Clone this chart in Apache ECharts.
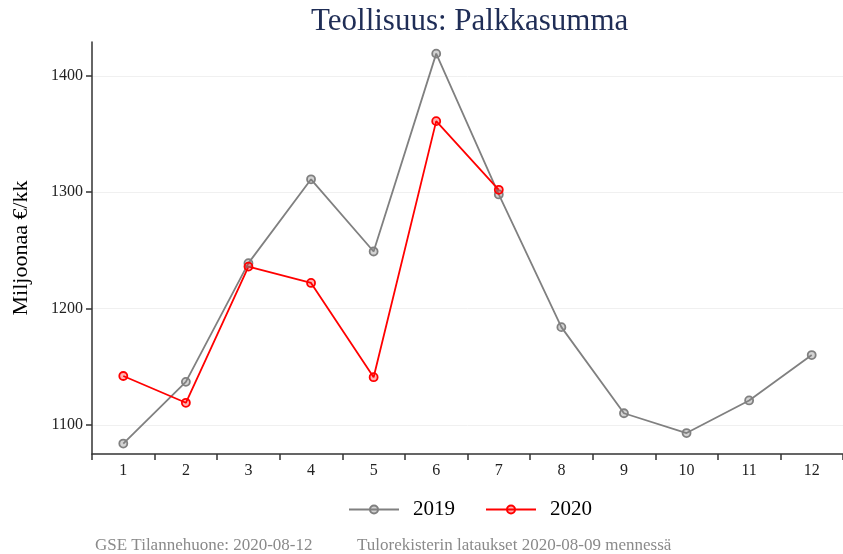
<!DOCTYPE html>
<html>
<head>
<meta charset="utf-8">
<script src="https://cdn.jsdelivr.net/npm/echarts@6/dist/echarts.min.js"></script>
<style>html,body{margin:0;padding:0;background:#fff;}#chart{width:843px;height:554px;}</style>
</head>
<body>
<div id="chart"></div>
<script>
const months = ['1','2','3','4','5','6','7','8','9','10','11','12'];
const values2019 = [1084, 1137, 1239, 1311, 1249, 1419, 1298, 1184, 1110, 1093, 1121, 1160];
const values2020 = [1142, 1119, 1236, 1222, 1141, 1361, 1302];
const yTicks = [1100, 1200, 1300, 1400];
const titleText = 'Teollisuus: Palkkasumma';
const yName = 'Miljoonaa €/kk';
const footLeft = 'GSE Tilannehuone: 2020-08-12';
const footRight = 'Tulorekisterin lataukset 2020-08-09 mennessä';

const serif = '"Liberation Serif", "DejaVu Serif", serif';
const chart = echarts.init(document.getElementById('chart'));
chart.setOption({
  animation: false,
  backgroundColor: '#fff',
  textStyle: { fontFamily: serif },
  title: {
    text: titleText, left: 306, top: 1,
    textStyle: { fontFamily: serif, fontSize: 31, fontWeight: 'normal', color: '#1f2d56' }
  },
  grid: { left: 92, right: -7, top: 42, bottom: 100 },
  legend: {
    bottom: 29, left: 343, itemWidth: 50, itemHeight: 10, itemGap: 30,
    textStyle: { fontFamily: serif, fontSize: 21, color: '#000', padding: [0, 0, 0, 9] },
    data: ['2019', '2020']
  },
  xAxis: {
    type: 'category', data: months, boundaryGap: true,
    axisLine: { lineStyle: { color: '#333', width: 1.5 } },
    axisTick: { show: true, length: 6, lineStyle: { color: '#333', width: 1.5 } },
    axisLabel: { fontFamily: serif, fontSize: 16, color: '#222', margin: 9 },
    splitLine: { show: false }
  },
  yAxis: {
    type: 'value', min: 1075, max: 1429,
    name: yName, nameLocation: 'middle', nameGap: 60,
    nameTextStyle: { fontFamily: serif, fontSize: 22, color: '#000' },
    axisLine: { show: true, lineStyle: { color: '#333', width: 1.5 } },
    axisTick: { show: true, length: 6, customValues: yTicks, lineStyle: { color: '#333', width: 1.5 } },
    axisLabel: { fontFamily: serif, fontSize: 16, color: '#222', margin: 9, customValues: yTicks, formatter: v => String(v) },
    splitLine: { show: true, lineStyle: { color: '#f0f0f0', width: 1 } }
  },
  series: [
    {
      name: '2019', type: 'line', data: values2019,
      symbol: 'circle', symbolSize: 8,
      lineStyle: { color: '#808080', width: 1.8 },
      itemStyle: { color: 'rgba(128,128,128,0.35)', borderColor: '#808080', borderWidth: 1.8 }
    },
    {
      name: '2020', type: 'line', data: values2020,
      symbol: 'circle', symbolSize: 8,
      lineStyle: { color: '#ff0000', width: 1.8 },
      itemStyle: { color: 'rgba(255,0,0,0.3)', borderColor: '#ff0000', borderWidth: 1.8 }
    }
  ],
  graphic: [
    { type: 'text', left: 95, top: 537, style: { text: footLeft, fontFamily: serif, fontSize: 17, fill: '#8a8a8a' } },
    { type: 'text', left: 357, top: 537, style: { text: footRight, fontFamily: serif, fontSize: 17, fill: '#8a8a8a' } }
  ]
});
</script>
</body>
</html>
